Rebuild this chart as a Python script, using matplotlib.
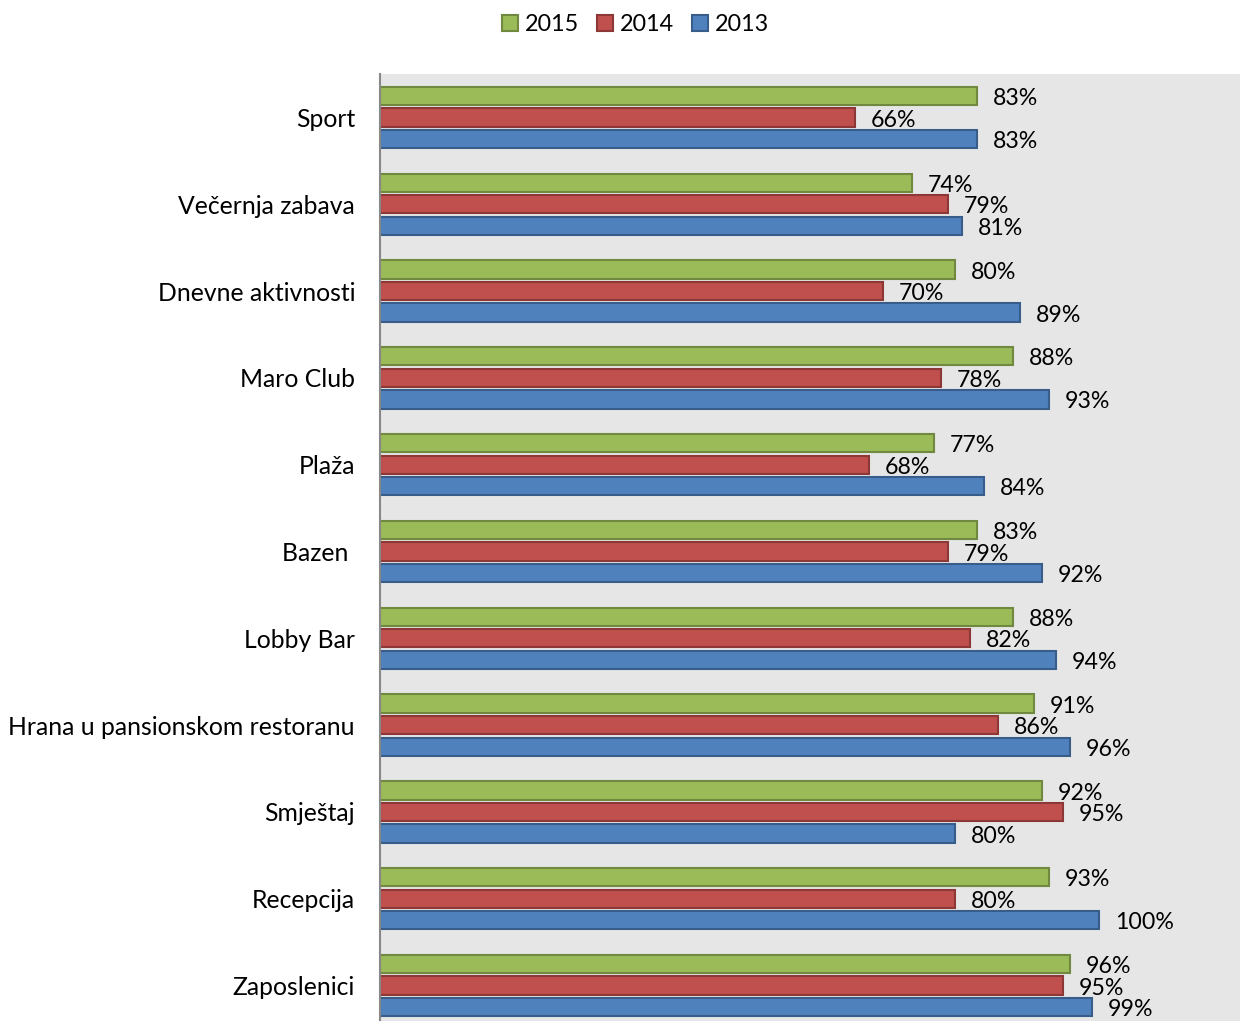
import matplotlib
matplotlib.use('Agg')
import matplotlib.pyplot as plt
import numpy as np

plt.rcParams['font.family'] = ['Lato', 'DejaVu Sans']

categories = ['Sport', 'Večernja zabava', 'Dnevne aktivnosti', 'Maro Club', 'Plaža',
              'Bazen ', 'Lobby Bar', 'Hrana u pansionskom restoranu', 'Smještaj',
              'Recepcija', 'Zaposlenici']
v2015 = [83, 74, 80, 88, 77, 83, 88, 91, 92, 93, 96]
v2014 = [66, 79, 70, 78, 68, 79, 82, 86, 95, 80, 95]
v2013 = [83, 81, 89, 93, 84, 92, 94, 96, 80, 100, 99]

series = [('2015', v2015, '#9BBB59', '#71893F'),
          ('2014', v2014, '#C0504D', '#8C3836'),
          ('2013', v2013, '#4F81BD', '#385D8A')]

fig = plt.figure(figsize=(12.4, 10.21), dpi=100)
ax = fig.add_axes([380/1240, -8/1021, 860/1240, (1029-74)/1021])
ax.set_facecolor('#E6E6E6')

y = np.arange(len(categories))
pitch = 0.248
h = 0.21
for i, (name, vals, fc, ec) in enumerate(series):
    pos = y + (i - 1) * pitch
    ax.barh(pos, vals, height=h, color=fc, edgecolor=ec, linewidth=1.5, label=name)
    for p, v in zip(pos, vals):
        ax.text(v + 2.2, p + 0.03, f'{v}%', va='center', ha='left', fontsize=16.7)

ax.set_xlim(0, 119.6)
ax.set_ylim(len(categories) - 0.5, -0.5)
ax.set_xticks([])
ax.set_yticks(y)
ax.set_yticklabels(categories, fontsize=17.8)
ax.tick_params(axis='y', length=0, pad=18)
for s in ['top', 'right', 'bottom']:
    ax.spines[s].set_visible(False)
ax.spines['left'].set_color('#888888')
ax.spines['left'].set_linewidth(1.5)

fig.legend(loc='upper center', bbox_to_anchor=(0.5125, 1.007), ncol=3, frameon=False,
           fontsize=16.8, handlelength=0.7, handleheight=0.7, handletextpad=0.3,
           columnspacing=0.76)

fig.savefig('out.png', dpi=100)
